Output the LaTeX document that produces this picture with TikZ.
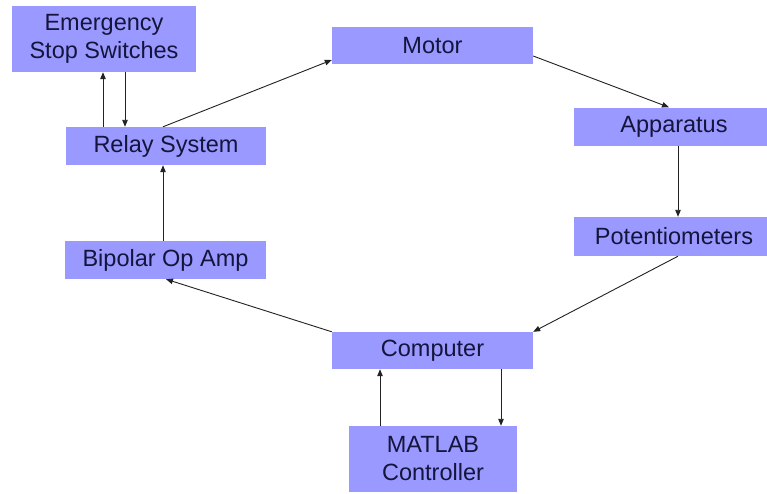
\documentclass[tikz,border=0pt]{standalone}
\usepackage{fontspec}
\setmainfont{Liberation Sans}
\usetikzlibrary{arrows.meta}
\definecolor{boxfill}{HTML}{9999FF}
\definecolor{boxtext}{HTML}{14143C}
\definecolor{wire}{HTML}{222222}
\begin{document}
\begin{tikzpicture}[x=1pt,y=-1pt,
  blk/.style={fill=boxfill,draw=none,text=boxtext,font=\fontsize{23.5}{28}\selectfont,align=center,inner sep=0pt},
  link/.style={draw=wire,line width=0.9pt,-{Triangle[length=7pt,width=5.5pt]}}]
\useasboundingbox (0,0) rectangle (767,493);
\fill[white] (0,0) rectangle (767,493);
% boxes
\node[blk,minimum width=184pt,minimum height=66pt] (ess) at (104,39) {Emergency\\Stop Switches};
\node[blk,minimum width=201pt,minimum height=37pt] (mot) at (432.5,45.5) {Motor};
\node[blk,minimum width=200pt,minimum height=38pt] (rel) at (166,146) {Relay System};
\node[blk,minimum width=200pt,minimum height=38pt] (app) at (674,126.5) {Apparatus};
\node[blk,minimum width=200pt,minimum height=39pt] (pot) at (674,236.5) {Potentiometers};
\node[blk,minimum width=201pt,minimum height=38pt] (bip) at (165.5,260) {Bipolar Op Amp};
\node[blk,minimum width=201pt,minimum height=37pt] (com) at (432.5,350.5) {Computer};
\node[blk,minimum width=168pt,minimum height=66pt] (mat) at (433,459) {MATLAB\\Controller};
% connectors
\draw[link] (rel.north -| 103,0) -- (ess.south -| 103,0);
\draw[link] (ess.south -| 125,0) -- (rel.north -| 125,0);
\draw[link] (rel.north -| 163,0) -- (mot.west |- 0,60);
\draw[link] (mot.east |- 0,56) -- (app.north -| 669,0);
\draw[link] (app.south -| 678,0) -- (pot.north -| 678,0);
\draw[link] (pot.south -| 678,0) -- (com.north east);
\draw[link] (com.north west) -- (bip.south -| 166,0);
\draw[link] (bip.north -| 163,0) -- (rel.south -| 163,0);
\draw[link] (mat.north -| 380,0) -- (com.south -| 380,0);
\draw[link] (com.south -| 501,0) -- (mat.north -| 501,0);
\end{tikzpicture}
\end{document}
